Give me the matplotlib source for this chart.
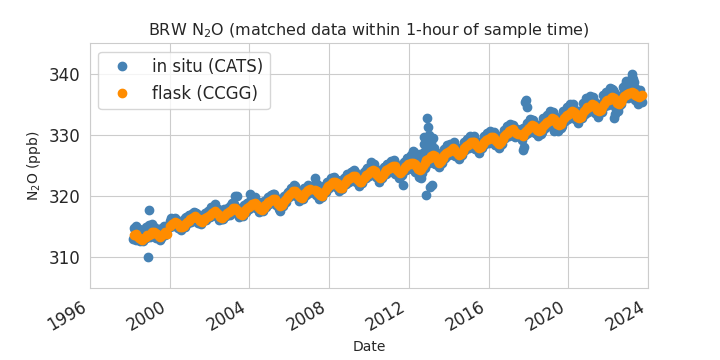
import numpy as np
import pandas as pd
import matplotlib
matplotlib.use('Agg')
import matplotlib.pyplot as plt
import seaborn as sns

nan = np.nan

# monthly matched samples, Mar 1998 - Sep 2023 (nan = no sample that month)
months = pd.date_range('1998-03-01', '2023-09-01', freq='MS')
mid_months = months + pd.Timedelta(days=14)

flask = [
    # 1998 (Mar-Dec)
    313.6, 313.8, 313.5, 313.2, 313.0, 312.9, 313.1, 313.4, 313.6, 313.7,
    # 1999
    313.9, 314.1, 314.2, 314.0, 313.8, 313.5, 313.3, 313.6, 313.9, 314.1, 313.9, nan,
    # 2000
    315.2, 315.5, 315.7, 315.8, 315.6, 315.3, 315.0, 314.9, 315.2, 315.5, 315.8, 316.0,
    # 2001
    316.2, 316.4, 316.6, 316.7, 316.5, 316.2, 315.9, 315.8, 316.1, 316.4, 316.6, 316.8,
    # 2002
    317.0, 317.2, 317.4, 317.5, 317.2, 316.9, 316.6, 316.5, 316.7, 317.0, 317.3, 317.4,
    # 2003
    317.5, 317.7, 318.0, 318.1, 317.8, 317.4, 317.1, 317.0, 317.3, 317.7, 318.0, 318.2,
    # 2004
    318.4, 318.7, 318.8, 318.9, 318.6, 318.2, 317.9, 317.8, 318.1, 318.5, 318.8, 319.0,
    # 2005
    319.2, 319.4, 319.6, 319.5, 319.1, 318.7, 318.4, 318.5, 318.9, 319.3, 319.7, 320.0,
    # 2006
    320.3, 320.5, 320.8, 320.9, 320.6, 320.2, 319.8, 319.7, 320.1, 320.5, 320.8, 321.0,
    # 2007
    321.1, nan, nan, 321.0, 320.8, 320.5, 320.2, 320.1, 320.5, 320.9, 321.3, 321.6,
    # 2008
    321.9, 322.2, 322.4, 322.4, 322.1, 321.7, 321.4, 321.4, 321.8, 322.2, 322.6, 322.8,
    # 2009
    322.9, 323.1, 323.3, 323.3, 323.0, 322.6, 322.3, 322.4, 322.8, 323.2, 323.5, 323.7,
    # 2010
    323.9, 324.1, 324.2, 324.1, 323.7, 323.3, 323.0, 323.1, 323.5, 323.9, 324.2, 324.4,
    # 2011
    324.6, 324.8, 325.0, 324.9, 324.5, 324.1, 323.8, 323.9, 324.3, 324.7, 325.0, 325.2,
    # 2012
    325.3, 325.4, 325.5, 325.3, 324.9, 324.5, 324.3, 324.5, 325.0, 325.5, 325.9, 326.1,
    # 2013
    326.3, 326.5, 326.7, 326.6, 326.2, 325.8, 325.5, 325.7, 326.2, 326.7, 327.0, 327.2,
    # 2014
    327.4, 327.6, 327.8, 327.7, 327.3, 326.9, 326.7, 326.9, 327.4, 327.9, 328.2, 328.4,
    # 2015
    328.6, 328.8, 328.9, 328.8, 328.4, 328.0, 327.8, 328.0, 328.5, 328.9, 329.2, 329.3,
    # 2016
    329.4, 329.6, 329.7, 329.5, 329.1, 328.7, 328.5, 328.8, 329.3, 329.8, 330.2, 330.4,
    # 2017
    330.6, 330.8, 330.9, 330.7, 330.4, 330.1, nan, nan, 329.9, 330.3, 330.7, 331.0,
    # 2018
    331.2, 331.4, 331.6, 331.5, 331.1, 330.8, 330.6, 330.8, 331.3, 331.7, 332.0, 332.2,
    # 2019
    332.3, 332.5, 332.7, 332.6, 332.2, 331.8, 331.6, 331.8, 332.3, 332.8, 333.1, 333.3,
    # 2020
    333.5, 333.7, 333.9, 333.8, 333.4, 333.0, 332.8, 333.0, 333.5, 334.0, 334.3, 334.5,
    # 2021
    334.6, 334.8, 335.0, 334.9, 334.5, 334.1, 333.9, 334.1, 334.6, 335.1, 335.5, 335.7,
    # 2022
    335.8, 336.0, 336.2, 336.1, 335.7, 335.3, 335.1, 335.4, 335.9, 336.3, 336.6, 336.7,
    # 2023 (Jan-Sep)
    336.8, 336.9, 337.0, 336.8, 336.5, 336.3, 336.2, 336.4, 336.6,
]

# in situ, mid-month matches
insitu = [
    # 1998 (Mar-Dec)
    314.8, 315.2, 314.3, 314.6, 313.8, 314.1, 314.5, 315.0, 314.4, 315.3,
    # 1999
    314.6, 315.4, 315.0, 314.8, 314.2, 314.6, 313.9, 314.8, 315.1, 314.6, 314.9, nan,
    # 2000
    315.9, 316.2, 315.6, 316.5, 316.0, 315.7, 315.5, 315.2, 316.1, 316.4, 316.0, 316.9,
    # 2001
    317.0, 316.7, 317.4, 317.2, 317.1, 316.5, 316.4, 315.9, 316.8, 317.1, 317.3, 317.6,
    # 2002
    317.5, 318.0, 317.8, 318.4, 317.6, 317.3, 316.9, 316.3, 317.2, 317.8, 317.7, 318.2,
    # 2003
    318.1, 318.9, 318.4, 320.1, 320.0, 317.9, 317.5, 317.2, 317.9, 318.4, 318.9, 319.0,
    # 2004
    320.4, 319.3, 319.5, 319.8, 319.0, 318.6, 318.2, 317.9, 318.6, 319.0, 319.4, 319.6,
    # 2005
    319.8, 320.0, 320.3, 319.9, 319.4, 319.0, 317.5, 318.8, 319.5, 319.9, 320.3, 320.6,
    # 2006
    320.8, 321.1, 321.3, 321.6, 321.0, 320.5, 320.1, 320.2, 320.6, 321.0, 321.2, 321.4,
    # 2007
    321.5, nan, nan, 322.9, 322.0, 321.6, 320.8, 320.6, 321.2, 321.6, 322.0, 322.4,
    # 2008
    322.5, 322.9, 323.0, 322.8, 322.6, 322.0, 321.6, 321.8, 322.4, 322.9, 323.3, 323.5,
    # 2009
    323.6, 323.8, 324.1, 323.9, 323.6, 323.0, 322.6, 322.9, 323.5, 323.9, 324.3, 324.5,
    # 2010
    324.8, 325.6, 324.7, 324.6, 324.2, 323.6, 323.3, 323.6, 324.2, 324.7, 325.0, 325.2,
    # 2011
    325.0, 325.6, 325.8, 325.4, 324.8, 324.0, 323.2, 323.4, 324.6, 325.3, 325.8, 326.2,
    # 2012
    326.2, 326.8, 327.4, 326.6, 325.8, 325.0, 324.2, 325.3, 327.0, 327.4, 326.4, 326.8,
    # 2013
    327.2, 327.8, 327.3, 326.9, 326.8, 326.2, 325.9, 326.1, 326.9, 327.4, 327.8, 328.0,
    # 2014
    328.2, 328.4, 328.6, 328.3, 327.8, 327.4, 327.1, 327.4, 328.0, 328.5, 328.8, 329.1,
    # 2015
    329.3, 329.4, 329.5, 329.2, 328.8, 328.4, 328.2, 328.5, 329.1, 329.6, 329.8, 330.0,
    # 2016
    330.0, 330.2, 330.3, 330.0, 329.6, 329.1, 328.9, 329.3, 329.9, 330.5, 330.8, 330.9,
    # 2017
    331.1, 331.3, 331.4, 331.1, 330.8, 330.4, nan, nan, 330.4, 330.7, 331.2, 331.5,
    # 2018
    331.8, 332.2, 332.4, 332.0, 331.4, 330.9, 330.2, 330.5, 331.6, 332.3, 332.7, 332.9,
    # 2019
    333.0, 333.3, 333.6, 333.2, 332.6, 332.0, 331.4, 331.2, 332.6, 333.4, 333.8, 334.0,
    # 2020
    334.2, 334.5, 334.7, 334.3, 333.8, 333.2, 332.9, 333.3, 334.0, 334.6, 336.0, 335.1,
    # 2021
    335.3, 335.6, 335.9, 335.5, 334.9, 334.0, 333.7, 334.2, 335.1, 335.8, 336.2, 336.4,
    # 2022
    336.6, 337.2, 337.5, 337.0, 336.2, 335.3, 334.8, 335.5, 336.5, 337.3, 337.8, 338.1,
    # 2023 (Jan-Sep)
    338.4, 338.7, 339.5, 338.6, 337.7, 336.8, 336.2, 336.4, 335.4,
]

# in situ, start-of-month matches
insitu_b = [
    # 1998 (Mar-Dec)
    313.0, 314.5, 312.8, 313.9, 312.6, 313.5, 312.7, 314.2, 313.1, 314.0,
    # 1999
    313.4, 314.6, 313.6, 314.5, 313.2, 314.0, 312.8, 313.2, 314.3, 313.6, 314.3, nan,
    # 2000
    315.0, 316.4, 315.1, 316.3, 315.1, 314.8, 316.0, 314.5, 315.8, 314.9, 316.6, 315.7,
    # 2001
    316.9, 315.8, 317.2, 316.2, 317.3, 315.7, 316.8, 315.4, 316.6, 317.3, 316.1, 317.5,
    # 2002
    316.6, 318.2, 316.9, 318.7, 316.8, 317.9, 316.1, 317.3, 316.2, 317.9, 316.8, 318.1,
    # 2003
    317.0, 318.6, 317.5, 318.8, 317.2, 318.1, 316.6, 317.8, 316.7, 318.5, 317.4, 318.9,
    # 2004
    317.9, 319.3, 318.2, 319.6, 318.0, 319.1, 317.4, 318.6, 317.6, 319.2, 318.3, 319.8,
    # 2005
    318.7, 320.2, 319.0, 320.3, 318.6, 319.5, 317.9, 319.1, 318.4, 320.1, 319.1, 320.7,
    # 2006
    319.8, 321.4, 320.2, 321.8, 320.0, 320.9, 319.2, 320.6, 319.5, 321.3, 320.2, 321.8,
    # 2007
    320.6, nan, nan, 321.9, 320.2, 321.4, 319.6, 320.9, 319.9, 321.6, 320.7, 322.3,
    # 2008
    321.3, 322.9, 321.8, 323.1, 321.5, 322.6, 320.8, 322.2, 321.2, 322.9, 322.0, 323.6,
    # 2009
    322.3, 323.9, 322.7, 324.2, 322.4, 323.5, 321.7, 323.2, 322.2, 324.0, 322.9, 324.6,
    # 2010
    323.3, 325.0, 323.6, 325.2, 323.1, 324.2, 322.4, 324.0, 322.9, 324.8, 323.6, 325.3,
    # 2011
    324.0, 325.7, 324.2, 325.9, 323.7, 325.0, 322.9, 324.8, 323.5, 325.6, 324.3, 326.3,
    # 2012
    324.6, 326.6, 324.5, 327.2, 323.9, 326.3, 323.2, 326.9, 323.8, 328.6, 324.6, 327.9,
    # 2013
    325.4, 328.7, 325.8, 327.9, 325.2, 327.0, 324.7, 326.8, 325.4, 327.7, 326.2, 328.3,
    # 2014
    326.7, 328.6, 327.1, 328.8, 326.6, 327.9, 326.0, 327.8, 326.7, 328.8, 327.5, 329.3,
    # 2015
    327.9, 329.8, 328.2, 329.8, 327.7, 328.9, 327.1, 328.9, 327.8, 329.9, 328.5, 330.3,
    # 2016
    328.7, 330.6, 329.0, 330.5, 328.4, 329.7, 327.8, 329.8, 328.6, 330.8, 329.5, 331.4,
    # 2017
    329.9, 331.8, 330.2, 331.6, 329.7, 331.0, nan, nan, 329.2, 331.2, 330.0, 332.0,
    # 2018
    330.4, 332.6, 330.9, 332.5, 330.3, 331.6, 329.9, 331.5, 330.5, 332.8, 331.2, 333.3,
    # 2019
    331.5, 333.9, 331.9, 333.8, 331.4, 332.7, 330.6, 332.5, 331.5, 333.9, 332.3, 334.6,
    # 2020
    332.6, 335.1, 333.0, 335.0, 332.6, 333.9, 331.9, 333.9, 332.7, 335.2, 333.5, 335.8,
    # 2021
    333.8, 336.3, 334.1, 336.2, 333.6, 335.0, 333.0, 335.1, 333.8, 336.5, 334.7, 337.0,
    # 2022
    334.9, 337.6, 335.2, 337.4, 334.5, 336.2, 333.9, 336.4, 335.0, 337.9, 336.0, 338.5,
    # 2023 (Jan-Sep)
    336.0, 338.9, 336.3, 339.1, 335.7, 337.5, 335.1, 337.4, 336.0,
]

# extra in situ points that stand away from the flask band
extra_dates = ['1998-11-25', '1998-12-12', '2011-09-12', '2012-08-08', '2012-10-01',
               '2012-11-07', '2012-11-25', '2012-12-12', '2013-01-01', '2013-01-19',
               '2013-02-24', '2013-03-14', '2017-10-01', '2017-10-19', '2017-11-07',
               '2017-11-25', '2017-12-12', '2018-08-10', '2019-04-20', '2021-07-01',
               '2022-04-20', '2022-05-10', '2022-11-20', '2023-03-15', '2023-08-10']
extra_vals = [310.1, 317.8, 321.8, 322.9, 329.7,
              320.2, 332.7, 331.3, 330.0, 321.5,
              321.8, 329.5, 327.6, 328.0, 335.4,
              335.8, 334.6, 330.2, 330.6, 333.5,
              332.8, 333.4, 338.9, 339.9, 335.5]

sns.set_style('whitegrid')

fig, ax = plt.subplots(figsize=(7.2, 3.6), dpi=100)

insitu_dates = list(mid_months) + list(months) + list(pd.to_datetime(extra_dates))
insitu_vals = list(insitu) + list(insitu_b) + extra_vals

ax.plot(insitu_dates, insitu_vals, 'o', color='steelblue', markersize=6, label='in situ (CATS)')
ax.plot(mid_months, flask, 'o', color='darkorange', markersize=6, label='flask (CCGG)')

ax.set_xlim(pd.Timestamp('1996-01-01'), pd.Timestamp('2024-01-01'))
ax.set_ylim(305, 345)
ax.set_title('BRW N$_2$O (matched data within 1-hour of sample time)', fontsize=11.5)
ax.set_ylabel('N$_2$O (ppb)', fontsize=10)
ax.set_xlabel('Date', fontsize=10)
ax.tick_params(labelsize=12)
ax.legend(loc='upper left', fontsize=12)
fig.autofmt_xdate()

plt.savefig('out.png', dpi=100)
